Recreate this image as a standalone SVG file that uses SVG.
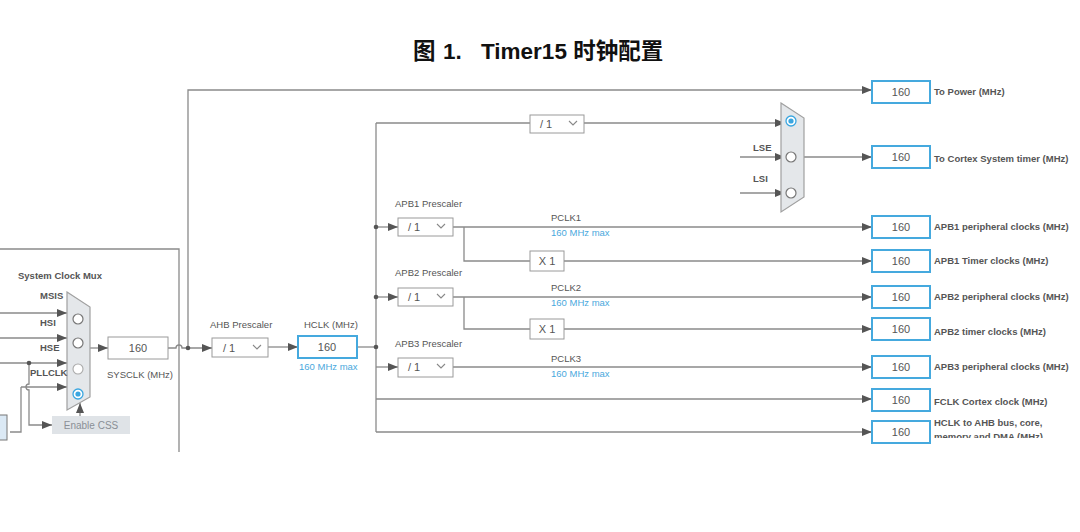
<svg xmlns="http://www.w3.org/2000/svg" width="1080" height="532" viewBox="0 0 1080 532">
<style>
.ln{fill:none;stroke:#8a8a8a;stroke-width:1.3}
.bb{fill:#fff;stroke:#45a9de;stroke-width:2}
.gb{fill:#fff;stroke:#9a9a9a;stroke-width:1}
.t{font-family:"Liberation Sans",Arial,sans-serif;font-size:9.5px;fill:#555}
.tb{font-family:"Liberation Sans",Arial,sans-serif;font-size:9.5px;fill:#555;font-weight:bold}
.tv{font-family:"Liberation Sans",Arial,sans-serif;font-size:11px;fill:#555;text-anchor:middle}
.blue{font-family:"Liberation Sans",Arial,sans-serif;font-size:9.5px;fill:#4aa8dd}
.mux{fill:#e4e7ea;stroke:#a0a0a0;stroke-width:1.2}
.rc{fill:#fff;stroke:#777;stroke-width:1.2}
.dot{fill:#555}
.chev{fill:none;stroke:#888;stroke-width:1.1}
</style>
<defs>
<marker id="ah" markerUnits="userSpaceOnUse" markerWidth="12" markerHeight="10" refX="10" refY="4" orient="auto">
<path d="M0,0 L10,4 L0,8 Z" fill="#555"/>
</marker>
<clipPath id="clipb"><rect x="0" y="0" width="1080" height="438"/></clipPath>
</defs>
<rect width="1080" height="532" fill="#fff"/>
<text y="59" font-family="'Liberation Sans','Noto Sans CJK SC',sans-serif" font-size="22.5" font-weight="bold" fill="#111"><tspan x="413">图</tspan><tspan x="443">1.</tspan><tspan x="481">Timer15 时钟配置</tspan></text>

<g id="connectors">
<path class="ln" d="M0,249 H179 V452"/>
<path class="ln" d="M0,313 H67" marker-end="url(#ah)"/>
<path class="ln" d="M0,338 H67" marker-end="url(#ah)"/>
<path class="ln" d="M0,363 H67" marker-end="url(#ah)"/>
<path class="ln" d="M21,387 H67" marker-end="url(#ah)"/>
<path class="ln" d="M21,387 V432 H10"/>
<path class="ln" d="M29,363 V384 A3,3 0 0 0 29,390 V425 H52" marker-end="url(#ah)"/>
<path class="ln" d="M80,416 V403" marker-end="url(#ah)"/>
<path class="ln" d="M90,348 H108" marker-end="url(#ah)"/>
<path class="ln" d="M168,348 H176 A3,3 0 0 1 182,348 H212" marker-end="url(#ah)"/>
<path class="ln" d="M188,348 V90 H872" marker-end="url(#ah)"/>
<path class="ln" d="M268,347 H298" marker-end="url(#ah)"/>
<path class="ln" d="M357,347 H376"/>
<path class="ln" d="M376,123 V432"/>
<path class="ln" d="M376,123 H530"/>
<path class="ln" d="M584,123 H785" marker-end="url(#ah)"/>
<path class="ln" d="M740,157 H785" marker-end="url(#ah)"/>
<path class="ln" d="M740,193 H785" marker-end="url(#ah)"/>
<path class="ln" d="M804,157 H872" marker-end="url(#ah)"/>
<path class="ln" d="M376,227 H398" marker-end="url(#ah)"/>
<path class="ln" d="M453,227 H872" marker-end="url(#ah)"/>
<path class="ln" d="M464,227 V261 H530"/>
<path class="ln" d="M564,261 H872" marker-end="url(#ah)"/>
<path class="ln" d="M376,297 H398" marker-end="url(#ah)"/>
<path class="ln" d="M453,297 H872" marker-end="url(#ah)"/>
<path class="ln" d="M464,297 V329 H530"/>
<path class="ln" d="M564,329 H872" marker-end="url(#ah)"/>
<path class="ln" d="M376,367 H398" marker-end="url(#ah)"/>
<path class="ln" d="M453,367 H872" marker-end="url(#ah)"/>
<path class="ln" d="M376,399 H872" marker-end="url(#ah)"/>
<path class="ln" d="M376,432 H872" marker-end="url(#ah)"/>
<circle class="dot" cx="29" cy="363" r="2.3"/>
<circle class="dot" cx="188" cy="348" r="2.3"/>
<circle class="dot" cx="376" cy="347" r="2.3"/>
<circle class="dot" cx="376" cy="227" r="2.3"/>
<circle class="dot" cx="376" cy="297" r="2.3"/>
</g>

<g id="sysmux">
<text class="tb" x="18" y="279" font-size="9">System Clock Mux</text>
<polygon class="mux" points="67,292 90,307 90,397 67,410"/>
<circle class="rc" cx="78" cy="319" r="5"/>
<circle class="rc" cx="78" cy="343" r="5"/>
<circle cx="78" cy="369" r="5" fill="#fff" stroke="#aaa" stroke-width="1.1"/>
<circle cx="78" cy="394" r="5" fill="#fff" stroke="#3aa6e0" stroke-width="1.3"/>
<circle cx="78" cy="394" r="2.6" fill="#3aa6e0"/>
<text class="tb" x="40" y="299" fill="#3a4a6a">MSIS</text>
<text class="tb" x="40" y="326">HSI</text>
<text class="tb" x="40" y="351">HSE</text>
<text class="tb" x="30" y="376">PLLCLK</text>
</g>

<g id="srcbox"><rect x="-2" y="415" width="9" height="25" fill="#dbe9f5" stroke="#777" stroke-width="1"/></g>

<g id="enablecss">
<rect x="52" y="416" width="78" height="18" fill="#dfe3e7"/>
<text x="91" y="429" text-anchor="middle" font-family="'Liberation Sans',Arial,sans-serif" font-size="10" fill="#8a8f96">Enable CSS</text>
</g>

<g id="sysclk">
<rect class="gb" x="108" y="337" width="60" height="22"/>
<text class="tv" x="138" y="352">160</text>
<text class="t" x="107" y="378">SYSCLK (MHz)</text>
</g>

<g id="ahb">
<text class="t" x="210" y="328">AHB Prescaler</text>
<rect class="gb" x="212" y="338" width="56" height="19"/>
<text class="tv" x="229" y="351.5">/ 1</text>
<path class="chev" d="M253,345 L257,349 L261,345"/>
</g>

<g id="hclk">
<text class="t" x="304" y="328">HCLK (MHz)</text>
<rect class="bb" x="298" y="336" width="59" height="22"/>
<text class="tv" x="327" y="351">160</text>
<text class="blue" x="299" y="370">160 MHz max</text>
</g>

<g id="systickdiv">
<rect class="gb" x="530" y="115" width="54" height="18"/>
<text class="tv" x="546" y="128">/ 1</text>
<path class="chev" d="M569,121 L573,125 L577,121"/>
</g>

<g id="systickmux">
<polygon class="mux" points="781,103 804,118 804,197 781,212"/>
<circle cx="791" cy="121" r="5" fill="#fff" stroke="#3aa6e0" stroke-width="1.3"/>
<circle cx="791" cy="121" r="2.6" fill="#3aa6e0"/>
<circle class="rc" cx="791" cy="157" r="5"/>
<circle class="rc" cx="791" cy="193" r="5"/>
<text class="tb" x="753" y="151" fill="#3a4a6a">LSE</text>
<text class="tb" x="753" y="182" fill="#3a4a6a">LSI</text>
</g>

<g id="apb1">
<text class="t" x="395" y="207">APB1 Prescaler</text>
<rect class="gb" x="398" y="218" width="55" height="18"/>
<text class="tv" x="414" y="231">/ 1</text>
<path class="chev" d="M437,224 L441,228 L445,224"/>
<text class="t" x="551" y="221" fill="#333">PCLK1</text>
<text class="blue" x="551" y="236">160 MHz max</text>
<rect class="gb" x="530" y="251" width="34" height="20"/>
<text class="tv" x="547" y="265">X 1</text>
</g>

<g id="apb2">
<text class="t" x="395" y="276">APB2 Prescaler</text>
<rect class="gb" x="398" y="288" width="55" height="18"/>
<text class="tv" x="414" y="301">/ 1</text>
<path class="chev" d="M437,294 L441,298 L445,294"/>
<text class="t" x="551" y="291" fill="#333">PCLK2</text>
<text class="blue" x="551" y="306">160 MHz max</text>
<rect class="gb" x="530" y="319" width="34" height="20"/>
<text class="tv" x="547" y="333">X 1</text>
</g>

<g id="apb3">
<text class="t" x="395" y="347">APB3 Prescaler</text>
<rect class="gb" x="398" y="358" width="55" height="19"/>
<text class="tv" x="414" y="371">/ 1</text>
<path class="chev" d="M437,364 L441,368 L445,364"/>
<text class="t" x="551" y="362" fill="#333">PCLK3</text>
<text class="blue" x="551" y="377">160 MHz max</text>
</g>

<g id="out-power"><rect class="bb" x="872" y="81" width="58" height="22"/><text class="tv" x="901" y="96">160</text><text class="tb" x="934" y="95" font-size="9">To Power (MHz)</text></g>
<g id="out-cortex"><rect class="bb" x="872" y="146" width="58" height="22"/><text class="tv" x="901" y="161">160</text><text class="tb" x="934" y="162" font-size="9">To Cortex System timer (MHz)</text></g>
<g id="out-apb1p"><rect class="bb" x="872" y="216" width="58" height="22"/><text class="tv" x="901" y="231">160</text><text class="tb" x="934" y="230" font-size="9">APB1 peripheral clocks (MHz)</text></g>
<g id="out-apb1t"><rect class="bb" x="872" y="250" width="58" height="22"/><text class="tv" x="901" y="265">160</text><text class="tb" x="934" y="264" font-size="9">APB1 Timer clocks (MHz)</text></g>
<g id="out-apb2p"><rect class="bb" x="872" y="286" width="58" height="22"/><text class="tv" x="901" y="301">160</text><text class="tb" x="934" y="300" font-size="9">APB2 peripheral clocks (MHz)</text></g>
<g id="out-apb2t"><rect class="bb" x="872" y="318" width="58" height="22"/><text class="tv" x="901" y="333">160</text><text class="tb" x="934" y="335" font-size="9">APB2 timer clocks (MHz)</text></g>
<g id="out-apb3p"><rect class="bb" x="872" y="356" width="58" height="22"/><text class="tv" x="901" y="371">160</text><text class="tb" x="934" y="370" font-size="9">APB3 peripheral clocks (MHz)</text></g>
<g id="out-fclk"><rect class="bb" x="872" y="389" width="58" height="22"/><text class="tv" x="901" y="404">160</text><text class="tb" x="934" y="405" font-size="9">FCLK Cortex clock (MHz)</text></g>
<g id="out-hclk"><rect class="bb" x="872" y="421" width="58" height="22"/><text class="tv" x="901" y="436">160</text>
<g clip-path="url(#clipb)"><text class="tb" x="934" y="426" font-size="9">HCLK to AHB bus, core,</text><text class="tb" x="934" y="440" font-size="9">memory and DMA (MHz)</text></g></g>
</svg>
